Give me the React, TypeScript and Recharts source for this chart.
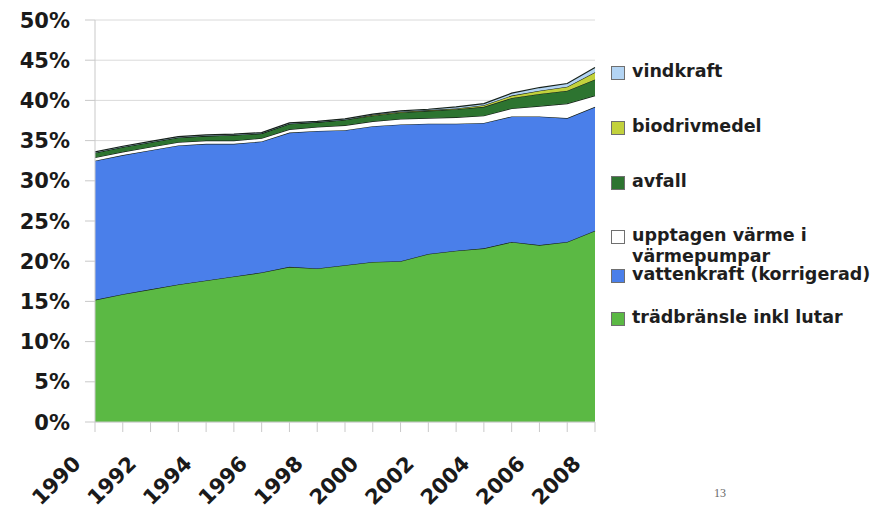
import React from "react";
import { AreaChart, Area, XAxis, YAxis, CartesianGrid } from "recharts";

const years = [
  "1990", "1991", "1992", "1993", "1994", "1995", "1996", "1997", "1998", "1999",
  "2000", "2001", "2002", "2003", "2004", "2005", "2006", "2007", "2008"
];

// shares in percent, stacked bottom to top
const tradbransle = [15.2, 15.9, 16.5, 17.1, 17.6, 18.1, 18.6, 19.3, 19.1, 19.5, 19.9, 20.0, 20.9, 21.3, 21.6, 22.4, 22.0, 22.4, 23.8];
const vattenkraft = [17.3, 17.3, 17.3, 17.3, 17.0, 16.5, 16.3, 16.7, 17.1, 16.8, 16.9, 17.0, 16.2, 15.8, 15.6, 15.6, 16.0, 15.4, 15.4];
const varmepumpar = [0.4, 0.4, 0.4, 0.4, 0.4, 0.4, 0.4, 0.4, 0.5, 0.6, 0.6, 0.7, 0.7, 0.8, 0.9, 1.0, 1.3, 1.8, 1.4];
const avfall = [0.6, 0.6, 0.6, 0.6, 0.6, 0.7, 0.6, 0.7, 0.6, 0.7, 0.7, 0.8, 0.9, 1.0, 1.1, 1.3, 1.5, 1.6, 2.0];
const biodrivmedel = [0, 0, 0, 0, 0, 0, 0, 0, 0, 0, 0.1, 0.1, 0.1, 0.1, 0.2, 0.3, 0.4, 0.5, 0.9];
const vindkraft = [0.1, 0.1, 0.1, 0.1, 0.1, 0.1, 0.1, 0.1, 0.1, 0.1, 0.1, 0.1, 0.1, 0.2, 0.2, 0.3, 0.4, 0.4, 0.6];

const yTicks = [0, 5, 10, 15, 20, 25, 30, 35, 40, 45, 50];

const series = [
  { key: "tradbransle", name: "trädbränsle inkl lutar", color: "#5bb944", values: tradbransle },
  { key: "vattenkraft", name: "vattenkraft (korrigerad)", color: "#4a7fea", values: vattenkraft },
  { key: "varmepumpar", name: "upptagen värme i\nvärmepumpar", color: "#ffffff", values: varmepumpar },
  { key: "avfall", name: "avfall", color: "#2d7430", values: avfall },
  { key: "biodrivmedel", name: "biodrivmedel", color: "#c2d13c", values: biodrivmedel },
  { key: "vindkraft", name: "vindkraft", color: "#b3d4f3", values: vindkraft }
];

// legend rows, top to bottom (y = centre of the box)
const legendRows = [
  { key: "vindkraft", y: 72 },
  { key: "biodrivmedel", y: 127 },
  { key: "avfall", y: 182 },
  { key: "varmepumpar", y: 236 },
  { key: "vattenkraft", y: 275 },
  { key: "tradbransle", y: 318 }
];

const data = years.map((year, i) => {
  const row: any = { year };
  series.forEach((s) => {
    row[s.key] = s.values[i];
  });
  return row;
});

const FONT = "'DejaVu Sans', Verdana, sans-serif";

const YTick = (props: any) => {
  const { x, y, payload } = props;
  return (
    <text x={x - 13} y={y} dy="0.36em" textAnchor="end" fontFamily={FONT} fontWeight="bold" fontSize={21} fill="#1a1a1a">
      {payload.value}%
    </text>
  );
};

const XTick = (props: any) => {
  const { x, y, payload } = props;
  if (Number(payload.value) % 2 !== 0) return null;
  const tx = x - 13;
  const ty = y + 31;
  return (
    <text x={tx} y={ty} transform={`rotate(-45, ${tx}, ${ty})`} textAnchor="end" fontFamily={FONT} fontWeight="bold" fontSize={21} fill="#1a1a1a">
      {payload.value}
    </text>
  );
};

export default function App() {
  return (
    <div style={{ position: "absolute", left: 0, top: 0, width: 874, height: 517, background: "#fff" }}>
      <AreaChart width={874} height={517} data={data} margin={{ top: 20, right: 279, bottom: 0, left: 0 }}>
        <CartesianGrid vertical={false} stroke="#dadada" />
        <XAxis
          dataKey="year"
          interval={0}
          height={95}
          tickSize={10}
          stroke="#c9c9c9"
          tick={<XTick />}
        />
        <YAxis
          width={95}
          domain={[0, 50]}
          ticks={yTicks}
          tickSize={10}
          stroke="#c9c9c9"
          tick={<YTick />}
        />
        {series.map((s) => (
          <Area
            key={s.key}
            type="linear"
            dataKey={s.key}
            name={s.name}
            stackId="1"
            fill={s.color}
            fillOpacity={1}
            stroke="#17221a"
            strokeWidth={1.2}
            isAnimationActive={false}
          />
        ))}
      </AreaChart>

      {legendRows.map((r) => {
        const s = series.find((item) => item.key === r.key)!;
        return (
          <div key={r.key} style={{ position: "absolute", left: 611, top: r.y - 7, display: "flex", alignItems: "flex-start" }}>
            <div
              style={{
                width: 12,
                height: 12,
                background: s.color,
                border: "1px solid #6f6f6f",
                marginTop: 1
              }}
            />
            <div
              style={{
                marginLeft: 7,
                marginTop: -4,
                fontFamily: FONT,
                fontWeight: "bold",
                fontSize: 17.5,
                lineHeight: "21px",
                color: "#1e1e1e",
                whiteSpace: "pre"
              }}
            >
              {s.name}
            </div>
          </div>
        );
      })}

      <div style={{ position: "absolute", left: 714, top: 486, fontFamily: "'Liberation Serif', serif", fontSize: 12, color: "#666" }}>
        13
      </div>
    </div>
  );
}
